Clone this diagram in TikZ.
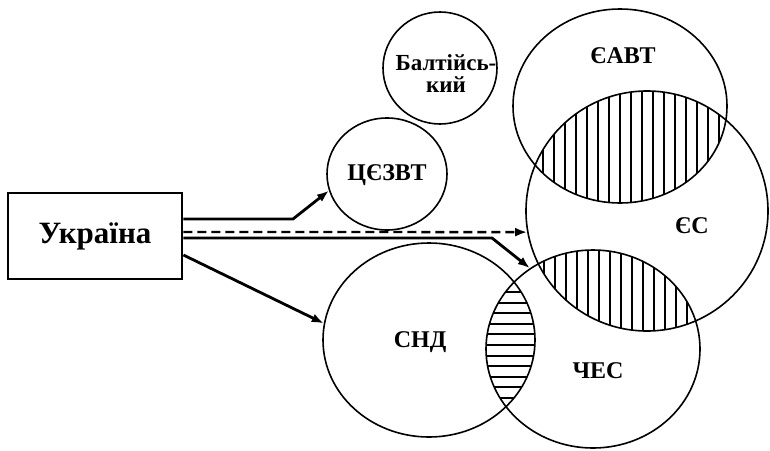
\documentclass[tikz,border=0pt]{standalone}
\usepackage{fontspec}
\setmainfont{Liberation Serif}
\usetikzlibrary{shapes.geometric,arrows.meta}
\begin{document}
\begin{tikzpicture}[x=1pt,y=-1pt,
  ring/.style={draw, ellipse, line width=1.6pt, inner sep=0pt},
  lbl/.style={font=\fontsize{24}{24}\selectfont\bfseries, inner sep=0pt, anchor=base},
  arr/.style={line width=2.8pt, -{Latex[length=12pt,width=9pt]}},
  darr/.style={line width=2.3pt, dash pattern=on 9pt off 5pt, -{Latex[length=12pt,width=9pt]}},
  hatch/.style={line width=1.9pt}]
\useasboundingbox (0,0) rectangle (770,450);
\fill[white] (0,0) rectangle (770,450);

% hatching: EAVT & ES
\begin{scope}
  \clip (620,106) ellipse [x radius=107pt, y radius=97pt];
  \clip (647,211) ellipse [x radius=121pt, y radius=120pt];
  \foreach \x in {0,...,18} \draw[hatch] (543+11*\x,80) -- (543+11*\x,220);
\end{scope}
% hatching: ES & CHES
\begin{scope}
  \clip (647,211) ellipse [x radius=121pt, y radius=120pt];
  \clip (593,349) ellipse [x radius=107pt, y radius=99pt];
  \foreach \x in {0,...,16} \draw[hatch] (544+11*\x,240) -- (544+11*\x,340);
\end{scope}
% hatching: SND & CHES
\begin{scope}
  \clip (429,340) ellipse [x radius=106pt, y radius=97pt];
  \clip (593,349) ellipse [x radius=107pt, y radius=99pt];
  \foreach \y in {0,...,11} \draw[hatch] (480,292+10.6*\y) -- (540,292+10.6*\y);
\end{scope}

% circles
\node[ring, minimum width=114pt, minimum height=112pt] (balt) at (440,68) {};
\node[ring, minimum width=120pt, minimum height=112pt] (cez) at (387,174) {};
\node[ring, minimum width=214pt, minimum height=194pt] (eavt) at (620,106) {};
\node[ring, minimum width=242pt, minimum height=240pt] (es) at (647,211) {};
\node[ring, minimum width=212pt, minimum height=194pt] (snd) at (429,340) {};
\node[ring, minimum width=214pt, minimum height=198pt] (ches) at (593,349) {};

% labels
\node[font=\fontsize{23}{22}\selectfont\bfseries, inner sep=0pt, align=center] (lbalt) at (446,74) {Балтійсь-\\кий};
\node[lbl] (lcez) at (387,180) {ЦЄЗВТ};
\node[lbl] (leavt) at (623,63) {ЄАВТ};
\node[lbl] (les) at (692,233) {ЄС};
\node[lbl] (lches) at (598,378) {ЧЕС};
\node[lbl] (lsnd) at (420,347) {СНД};

% Ukraine box
\node[draw, line width=2.8pt, minimum width=174pt, minimum height=86pt, inner sep=0pt,
      font=\fontsize{31}{31}\selectfont\bfseries] (ukr) at (95,236) {Україна};

% connectors
\coordinate (b1) at (293,219);
\coordinate (b2) at (492,238);
\draw[arr] ([yshift=17pt]ukr.east) -- (b1) -- (cez.196);
\draw[darr] ([yshift=4pt]ukr.east) -- (es.190);
\draw[arr] ([yshift=-2pt]ukr.east) -- (b2) -- (ches.128);
\draw[arr] ([yshift=-19pt]ukr.east) -- (snd.171);
\end{tikzpicture}
\end{document}
